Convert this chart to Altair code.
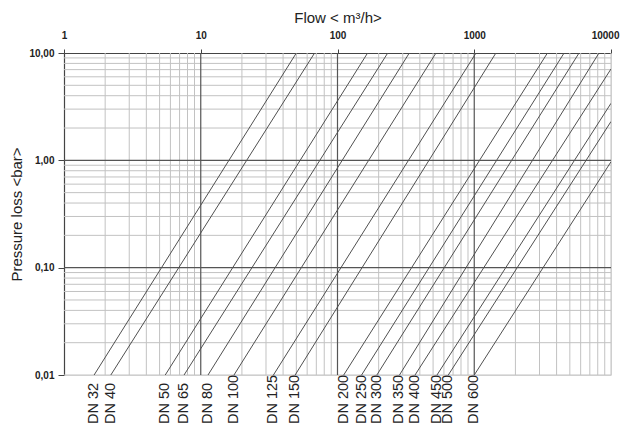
import altair as alt
import pandas as pd

# Pipe sizes and their pressure-loss lines (start at 0.01 bar, end at chart edge)
dn = ["DN 32", "DN 40", "DN 50", "DN 65", "DN 80", "DN 100", "DN 125", "DN 150",
      "DN 200", "DN 250", "DN 300", "DN 350", "DN 400", "DN 450", "DN 500", "DN 600"]
flow_start = [1.66, 2.2, 5.5, 7.55, 11.3, 17.5, 34, 49,
              111, 150, 194, 284, 369, 534, 646, 1000]
p_start = [0.01] * 16
flow_end = [50, 68, 166, 233, 335, 525, 1030, 1440,
            3430, 4540, 5840, 8170, 10000, 10000, 10000, 10000]
p_end = [10, 10, 10, 10, 10, 10, 10, 10,
         10, 10, 10, 10, 7.1, 3.4, 2.3, 0.97]

# Axis tick labels
x_ticks = [1, 10, 100, 1000, 10000]
y_ticks = [0.01, 0.1, 1, 10]

# Grid positions
x_major = [10, 100, 1000]
x_minor = [2, 3, 4, 5, 6, 7, 8, 9,
           20, 30, 40, 50, 60, 70, 80, 90,
           200, 300, 400, 500, 600, 700, 800, 900,
           2000, 3000, 4000, 5000, 6000, 7000, 8000, 9000, 10000]
y_major = [0.1, 1]
y_minor = [0.01, 0.02, 0.03, 0.04, 0.05, 0.06, 0.07, 0.08, 0.09,
           0.2, 0.3, 0.4, 0.5, 0.6, 0.7, 0.8, 0.9,
           2, 3, 4, 5, 6, 7, 8, 9]

W, H = 547, 322
FONT = "Liberation Sans"

xs = alt.Scale(type="log", domain=[1, 10000], nice=False)
ys = alt.Scale(type="log", domain=[0.01, 10], nice=False)

x_axis = alt.Axis(orient="top", values=x_ticks, format="d", grid=False,
                  title="Flow < m³/h>", titleFont=FONT, titleFontSize=15,
                  titleFontWeight="normal", titleColor="#222222",
                  titlePadding=5,
                  labelFont=FONT, labelFontSize=10, labelFontWeight="bold",
                  labelColor="#222222", labelPadding=9,
                  labelAlign={"expr": "datum.value >= 10000 ? 'right' : 'center'"},
                  labelOffset={"expr": "datum.value >= 10000 ? 8 : 0"},
                  domainColor="#444444", domainWidth=1.2,
                  tickColor="#444444", tickSize=4, labelFlush=False)
y_axis = alt.Axis(orient="left", values=y_ticks, grid=False,
                  labelExpr="replace(format(datum.value, '.2f'), '.', ',')",
                  title="Pressure loss <bar>", titleFont=FONT, titleFontSize=15,
                  titleFontWeight="normal", titleColor="#222222",
                  titlePadding=4,
                  labelFont=FONT, labelFontSize=10, labelFontWeight="bold",
                  labelColor="#222222", labelPadding=4,
                  domainColor="#444444", domainWidth=1.2,
                  tickColor="#444444", tickSize=6, labelFlush=False)

rows = []
for i, name in enumerate(dn):
    rows.append({"dn": name, "flow": flow_start[i], "p": p_start[i], "o": 0})
    rows.append({"dn": name, "flow": flow_end[i], "p": p_end[i], "o": 1})
lines_df = pd.DataFrame(rows)
labels_df = pd.DataFrame({"dn": dn, "flow": flow_start})

vminor = alt.Chart(pd.DataFrame({"x": x_minor})).mark_rule(
    color="#c2c2c2", strokeWidth=1).encode(x=alt.X("x:Q", scale=xs, axis=x_axis))
hminor = alt.Chart(pd.DataFrame({"y": y_minor})).mark_rule(
    color="#c2c2c2", strokeWidth=1).encode(y=alt.Y("y:Q", scale=ys, axis=y_axis))
vmajor = alt.Chart(pd.DataFrame({"x": x_major})).mark_rule(
    color="#555555", strokeWidth=1.2).encode(x=alt.X("x:Q", scale=xs, axis=x_axis))
hmajor = alt.Chart(pd.DataFrame({"y": y_major})).mark_rule(
    color="#555555", strokeWidth=1.2).encode(y=alt.Y("y:Q", scale=ys, axis=y_axis))

lines = alt.Chart(lines_df).mark_line(color="#505050", strokeWidth=1, clip=True).encode(
    x=alt.X("flow:Q", scale=xs, axis=x_axis),
    y=alt.Y("p:Q", scale=ys, axis=y_axis),
    detail="dn:N",
    order="o:Q",
)

labels = alt.Chart(labels_df).mark_text(
    angle=270, align="left", baseline="middle", font=FONT, fontSize=14.5, color="#222222"
).encode(
    x=alt.X("flow:Q", scale=xs, axis=x_axis),
    y=alt.value(H + 49),
    text="dn:N",
)

chart = alt.layer(vminor, hminor, vmajor, hmajor, lines, labels).properties(
    width=W, height=H,
    padding={"left": 56, "top": 45, "right": 9, "bottom": 50},
    autosize=alt.AutoSizeParams(type="none"),
).configure_view(stroke=None).configure(background="white")

chart.save("out.html", embed_options={"renderer": "svg", "actions": False})
